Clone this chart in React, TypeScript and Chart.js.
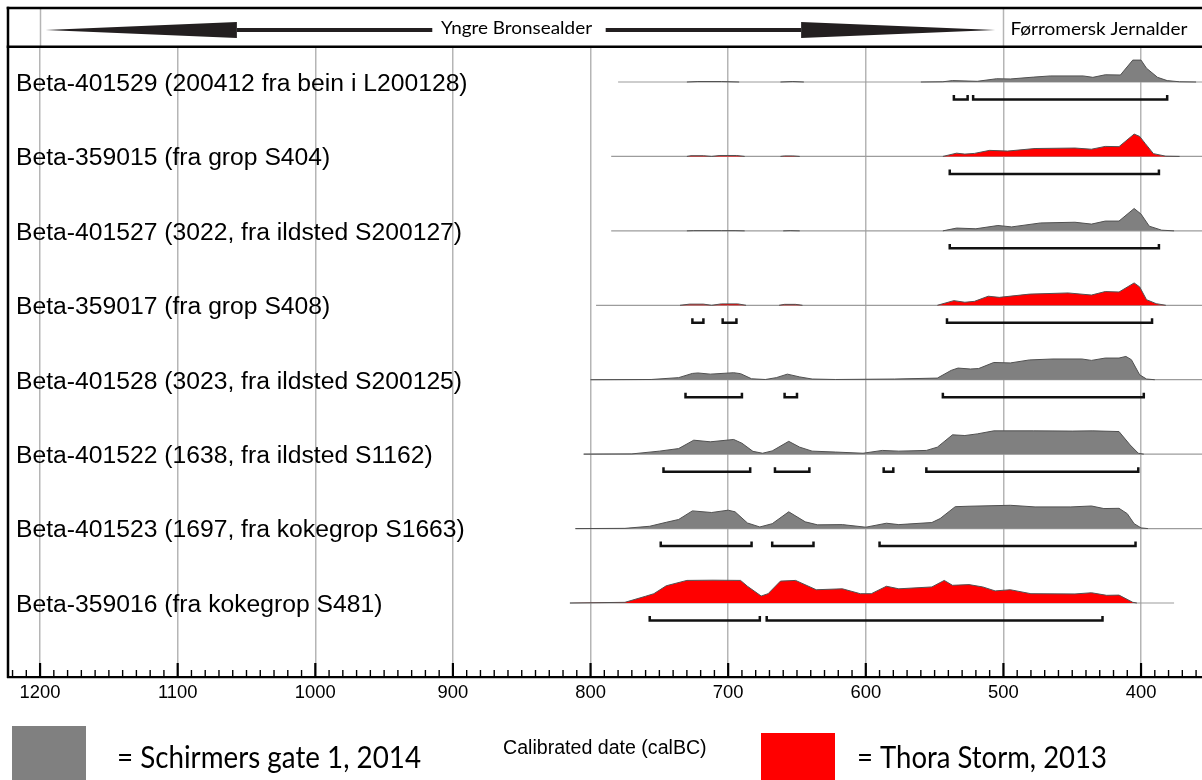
import React, { useEffect, useRef } from "react";
import { Chart, registerables } from "chart.js";

Chart.register(...registerables);

// ---------------- DATA ----------------
const ROW_LABELS = [
  "Beta-401529 (200412 fra bein i L200128)",
  "Beta-359015 (fra grop S404)",
  "Beta-401527 (3022, fra ildsted S200127)",
  "Beta-359017 (fra grop S408)",
  "Beta-401528 (3023, fra ildsted S200125)",
  "Beta-401522 (1638, fra ildsted S1162)",
  "Beta-401523 (1697, fra kokegrop S1663)",
  "Beta-359016 (fra kokegrop S481)",
];
// 0 = Schirmers gate 1, 2014 ; 1 = Thora Storm, 2013
const ROW_SITE = [0, 1, 0, 1, 0, 0, 0, 1];
const SITE_NAMES = ["= Schirmers gate 1, 2014", "= Thora Storm, 2013"];

// extent of each calibration baseline (calBC)
const ROW_START = [780, 785, 785, 796, 800, 805, 811, 815];
const ROW_END = [350, 350, 350, 350, 350, 350, 350, 376];

// [year calBC, relative probability %]
const DIST_0 = [[780,0],[730,0],[722,2],[705,2],[692,0],[662,0],[653,2],[645,0],[560,0],[544,1],[537,6],[519,3],[505,14],[495,13],[478,21],[466,26],[442,26],[435,20],[426,31],[415,30],[406,94],[400,94],[396,59],[388,20],[381,6],[372,1],[360,0]];
const DIST_1 = [[785,0],[730,0],[727,3],[718,3],[712,0],[706,4],[694,4],[688,0],[662,0],[659,2],[653,2],[648,0],[560,0],[544,0],[534,14],[528,10],[521,13],[510,26],[497,23],[477,34],[448,36],[436,31],[426,43],[416,42],[405,96],[401,86],[397,56],[391,12],[382,1],[372,0]];
const DIST_2 = [[785,0],[730,0],[725,1],[705,1],[695,1],[688,0],[660,0],[655,1],[648,0],[560,0],[544,0],[534,12],[520,9],[504,23],[494,17],[473,34],[448,37],[436,29],[426,42],[416,42],[405,96],[400,72],[394,20],[385,3],[376,0]];
const DIST_3 = [[796,0],[735,0],[728,5],[718,5],[712,0],[705,6],[693,6],[687,0],[663,0],[659,4],[651,4],[646,0],[560,0],[548,0],[536,20],[528,13],[521,17],[511,39],[503,34],[481,48],[453,53],[436,44],[426,59],[416,57],[405,96],[401,79],[396,24],[389,7],[382,0]];
const DIST_4 = [[800,0],[756,1],[736,9],[726,27],[722,29],[713,24],[696,30],[691,26],[683,4],[673,1],[665,9],[657,24],[648,12],[639,3],[622,1],[579,3],[548,7],[538,40],[533,50],[524,46],[518,48],[507,74],[495,72],[481,85],[464,89],[443,89],[436,83],[426,93],[416,93],[411,100],[407,86],[401,21],[396,3],[390,0]];
const DIST_5 = [[805,0],[770,1],[750,13],[736,24],[725,60],[713,53],[696,63],[690,47],[682,12],[675,4],[668,14],[656,55],[648,30],[639,13],[622,9],[602,4],[588,16],[576,13],[556,16],[548,30],[537,83],[528,80],[519,87],[507,100],[478,100],[450,99],[435,100],[416,97],[408,40],[402,4],[398,0]];
const DIST_6 = [[811,0],[775,1],[757,10],[745,27],[736,39],[726,76],[712,69],[700,79],[695,72],[686,24],[677,7],[668,21],[656,72],[644,29],[635,16],[617,17],[600,6],[585,23],[576,17],[552,26],[546,43],[535,94],[525,96],[495,100],[477,93],[451,93],[436,97],[427,86],[416,87],[410,64],[405,21],[400,3],[395,0]];
const DIST_7 = [[815,0],[775,3],[760,29],[754,40],[745,74],[730,97],[711,98],[691,97],[686,72],[676,30],[671,40],[662,94],[651,97],[636,57],[617,61],[604,40],[596,40],[585,72],[576,61],[552,69],[543,97],[537,76],[525,79],[515,69],[506,52],[495,57],[480,40],[448,39],[436,44],[425,33],[416,34],[406,3],[403,0]];
const DISTS = [DIST_0, DIST_1, DIST_2, DIST_3, DIST_4, DIST_5, DIST_6, DIST_7];

// probability ranges [from, to] calBC
const RANGES_0 = [[536,526],[522,381]];
const RANGES_1 = [[539,387]];
const RANGES_2 = [[539,387]];
const RANGES_3 = [[726,718],[704,694],[541,392]];
const RANGES_4 = [[731,690],[659,650],[544,398]];
const RANGES_5 = [[747,684],[666,641],[587,580],[556,402]];
const RANGES_6 = [[749,683],[668,638],[590,404]];
const RANGES_7 = [[757,677],[672,428]];
const RANGES = [RANGES_0, RANGES_1, RANGES_2, RANGES_3, RANGES_4, RANGES_5, RANGES_6, RANGES_7];

const X_TICKS = [1200, 1100, 1000, 900, 800, 700, 600, 500, 400];
const MINOR_STEP = 10;
const PERIODS = ["Yngre Bronsealder", "Førromersk Jernalder"];
const PERIOD_BOUNDARY = 500;
const LEFT_ARROW = [1196, 1057, 915]; // tip, head base, shaft end (calBC)
const RIGHT_ARROW = [789, 647, 506]; // shaft start, head base, tip (calBC)
const AXIS_TITLE = "Calibrated date (calBC)";

// ---------------- STYLE ----------------
const X_MIN = 355.7;
const X_MAX = 1223.3;
const Y_MIN = -0.4568;
const Y_MAX = 7.994;
const AMP = 0.313;
const BR_OFF = 0.235;
const BR_TICK = 0.06;
const SITE_COLORS = ["#808080", "#ff0000"];
const OUTLINE = "#505050";
const BASE_COLOR = "#9c9c9c";
const GRID_COLOR = "#b5b5b5";
const ARIAL = '"Liberation Sans", Arial, sans-serif';
const MYRIAD = 'Lato, "Open Sans", sans-serif';

function fitText(ctx: CanvasRenderingContext2D, text: string, x: number, yBase: number, width: number, font: string) {
  ctx.font = font;
  const w = ctx.measureText(text).width;
  const sx = w > 0 ? width / w : 1;
  ctx.save();
  ctx.translate(x, yBase);
  ctx.scale(sx, 1);
  ctx.textAlign = "left";
  ctx.textBaseline = "alphabetic";
  ctx.fillText(text, 0, 0);
  ctx.restore();
}

const overlay = {
  id: "overlay",
  afterDraw(chart: any) {
    const { ctx, chartArea: ca, scales } = chart;
    const x = scales.x;
    const y = scales.y;
    ctx.save();

    // grid lines that continue through the banner
    ctx.strokeStyle = GRID_COLOR;
    ctx.lineWidth = 1.5;
    [X_TICKS[0], PERIOD_BOUNDARY].forEach((v) => {
      const px = Math.round(x.getPixelForValue(v)) + 0.5;
      ctx.beginPath();
      ctx.moveTo(px, 8);
      ctx.lineTo(px, ca.top);
      ctx.stroke();
    });

    // frame
    ctx.strokeStyle = "#000";
    ctx.lineWidth = 2.6;
    ctx.beginPath();
    ctx.moveTo(ca.left - 1.3, 8);
    ctx.lineTo(chart.width, 8);
    ctx.moveTo(ca.left - 1.3, 46.7);
    ctx.lineTo(chart.width, 46.7);
    ctx.stroke();
    ctx.lineWidth = 2.5;
    ctx.beginPath();
    ctx.moveTo(ca.left, 6.7);
    ctx.lineTo(ca.left, ca.bottom + 1);
    ctx.stroke();

    // arrows
    ctx.fillStyle = "#231f20";
    const ay = 30;
    const [lt, lb, le] = LEFT_ARROW.map((v) => x.getPixelForValue(v));
    ctx.beginPath();
    ctx.moveTo(lt, ay);
    ctx.lineTo(lb, ay - 8);
    ctx.lineTo(lb, ay + 8);
    ctx.closePath();
    ctx.fill();
    ctx.fillRect(lb, ay - 2, le - lb, 4);
    const [rs, rb, rt] = RIGHT_ARROW.map((v) => x.getPixelForValue(v));
    ctx.fillRect(rs, ay - 2, rb - rs, 4);
    ctx.beginPath();
    ctx.moveTo(rt, ay);
    ctx.lineTo(rb, ay - 8);
    ctx.lineTo(rb, ay + 8);
    ctx.closePath();
    ctx.fill();

    // period names
    ctx.fillStyle = "#000";
    fitText(ctx, PERIODS[0], 441, 33.5, 151, `17px ${MYRIAD}`);
    fitText(ctx, PERIODS[1], x.getPixelForValue(PERIOD_BOUNDARY) + 7, 35, 177, `17px ${MYRIAD}`);

    // row labels
    ctx.font = `24.7px ${ARIAL}`;
    ctx.textAlign = "left";
    ctx.textBaseline = "alphabetic";
    ROW_LABELS.forEach((lab, i) => {
      ctx.fillText(lab, ca.left + 8, y.getPixelForValue(i) + 8.8);
    });

    // axis ticks (pointing up into the plot)
    ctx.strokeStyle = "#000";
    for (let v = Math.floor(X_MAX / MINOR_STEP) * MINOR_STEP; v >= X_MIN; v -= MINOR_STEP) {
      const major = X_TICKS.includes(v);
      const px = x.getPixelForValue(v);
      ctx.lineWidth = major ? 2.2 : 1.4;
      ctx.beginPath();
      ctx.moveTo(px, ca.bottom);
      ctx.lineTo(px, ca.bottom - (major ? 14 : 7));
      ctx.stroke();
    }

    // axis title
    ctx.font = `19.6px ${ARIAL}`;
    ctx.fillStyle = "#000";
    ctx.fillText(AXIS_TITLE, 503, 754);

    // legend
    ctx.fillStyle = SITE_COLORS[0];
    ctx.fillRect(12, 726, 74, chart.height - 726);
    ctx.fillStyle = SITE_COLORS[1];
    ctx.fillRect(761, 733, 74, chart.height - 733);
    ctx.fillStyle = "#000";
    fitText(ctx, SITE_NAMES[0], 117, 768, 304, `30px ${MYRIAD}`);
    fitText(ctx, SITE_NAMES[1], 857, 768, 250, `30px ${MYRIAD}`);

    ctx.restore();
  },
};

export default function App() {
  const ref = useRef<HTMLCanvasElement>(null);

  useEffect(() => {
    document.body.style.margin = "0";
    const canvas = ref.current;
    if (!canvas) return;

    const datasets: any[] = [];
    ROW_LABELS.forEach((lab, i) => {
      const color = SITE_COLORS[ROW_SITE[i]];
      datasets.push({
        label: `base-${i}`,
        data: [
          { x: ROW_START[i], y: i },
          { x: ROW_END[i], y: i },
        ],
        borderColor: BASE_COLOR,
        borderWidth: 1.2,
        pointRadius: 0,
        fill: false,
        order: 2,
      });
      datasets.push({
        label: lab,
        data: DISTS[i].map(([yr, p]) => ({ x: yr, y: i - (p / 100) * AMP })),
        borderColor: OUTLINE,
        borderWidth: 1,
        backgroundColor: color,
        fill: { value: i },
        pointRadius: 0,
        tension: 0,
        order: 1,
        segment: {
          borderColor: (c: any) =>
            c.p0.parsed.y === i && c.p1.parsed.y === i ? "rgba(0,0,0,0)" : OUTLINE,
        },
      });
      const pts: any[] = [];
      RANGES[i].forEach(([a, b]) => {
        pts.push(
          { x: a, y: i + BR_OFF - BR_TICK },
          { x: a, y: i + BR_OFF },
          { x: b, y: i + BR_OFF },
          { x: b, y: i + BR_OFF - BR_TICK },
          { x: b, y: null }
        );
      });
      datasets.push({
        label: `range-${i}`,
        data: pts,
        borderColor: "#111",
        borderWidth: 2.5,
        borderJoinStyle: "miter",
        borderCapStyle: "butt",
        pointRadius: 0,
        fill: false,
        spanGaps: false,
        order: 0,
      });
    });

    const chart = new Chart(canvas, {
      type: "line",
      data: { datasets },
      options: {
        animation: false,
        responsive: false,
        maintainAspectRatio: false,
        events: [],
        layout: { padding: { left: 8, top: 48, right: 0, bottom: 0 } },
        plugins: { legend: { display: false }, tooltip: { enabled: false } },
        scales: {
          x: {
            type: "linear",
            min: X_MIN,
            max: X_MAX,
            reverse: true,
            afterBuildTicks: (s: any) => {
              s.ticks = X_TICKS.map((v) => ({ value: v }));
            },
            afterFit: (s: any) => {
              s.height = 103;
            },
            grid: { color: GRID_COLOR, lineWidth: 1.5, drawTicks: false },
            border: { display: true, color: "#000", width: 2.2 },
            ticks: {
              color: "#000",
              font: { family: ARIAL, size: 18.4 },
              padding: 5,
              maxRotation: 0,
              autoSkip: false,
              callback: (v: any) => String(v),
            },
          },
          y: {
            type: "linear",
            display: false,
            min: Y_MIN,
            max: Y_MAX,
            reverse: true,
          },
        },
      },
      plugins: [overlay],
    } as any);

    return () => chart.destroy();
  }, []);

  return <canvas ref={ref} width={1202} height={780} style={{ display: "block" }} />;
}
